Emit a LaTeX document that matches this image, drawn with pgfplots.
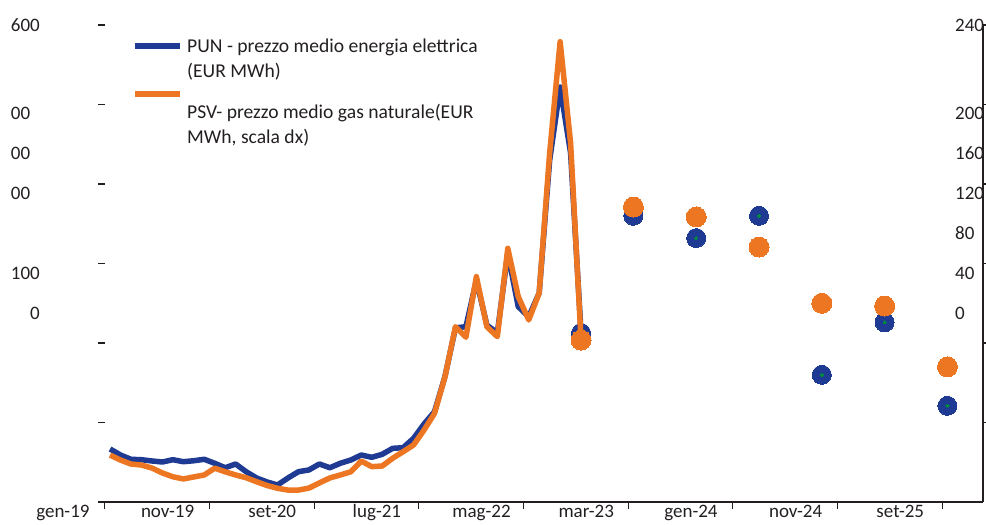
\documentclass[border=0pt]{standalone}
\usepackage{pgfplots}
\usepackage{pgfplotstable}
\pgfplotsset{compat=1.18}
\usepackage{fontspec}
\setmainfont{Carlito}
\definecolor{punblue}{RGB}{31,58,147}
\definecolor{psvorange}{RGB}{237,118,34}
\definecolor{dotgreen}{RGB}{0,140,60}
\definecolor{txt}{RGB}{35,31,32}

\pgfplotstableread{
m pun psv
0 66.7 23.6
1 59.1 21.1
2 53.7 19.1
3 53.2 18.6
4 51.6 17.1
5 50.3 14.6
6 53.2 12.7
7 50.7 11.6
8 51.9 12.6
9 53.7 13.6
10 48.7 17.0
11 43.1 15.2
12 47.8 13.6
13 38.1 12.2
14 30.2 10.2
15 25.2 8.3
16 21.4 6.9
17 30.2 6.0
18 38.1 6.0
19 40.3 7.0
20 47.8 9.6
21 43.1 12.1
22 48.7 13.6
23 52.8 15.2
24 59.1 20.6
25 56.2 17.8
26 60.0 18.1
27 67.5 22.0
28 68.3 25.3
29 80.1 28.7
30 98.1 36.2
31 113.6 44.6
32 158.0 63.0
33 219.0 88.2
34 220.5 82.9
35 279.0 113.4
36 222.6 88.2
37 212.6 83.2
38 313.0 127.6
39 245.7 103.3
40 233.0 91.6
41 263.0 105.2
42 430.0 175.6
43 522.0 231.6
44 439.0 180.6
45 212.6 81.5
}\histdata

\pgfplotstableread{
m pun psv
45 212.6 81.5
50 360.0 148.4
56 332.0 143.4
62 360.0 128.3
68 160.0 100.0
74 226.0 98.6
80 121.0 68.0
}\dotdata

\begin{document}
\begin{tikzpicture}[font=\fontsize{19bp}{23bp}\selectfont, every node/.style={text=txt}]
\path[use as bounding box] (0,0) rectangle (986bp,525bp);
\begin{axis}[
  at={(98bp,23bp)}, anchor=south west,
  scale only axis, width=885bp, height=477bp,
  xmin=-1.15, xmax=83.4, ymin=0, ymax=600,
  axis x line*=bottom, axis y line*=left,
  y axis line style={draw=none},
  x axis line style={line width=1.4bp, draw=txt, -},
  tick align=inside,
  major tick length=7bp,
  xtick={-0.5,9.5,...,79.5},
  xticklabels={gen-19,nov-19,set-20,lug-21,mag-22,mar-23,gen-24,nov-24,set-25},
  x tick style={line width=1.3bp, draw=txt, yshift=-7bp},
  xticklabel style={xshift=-41.9bp, anchor=north, inner sep=0pt, yshift=-2.5bp},
  ytick={100,200,300,400,500,600},
  yticklabels={},
  y tick style={line width=1.6bp, draw=txt},
  extra y ticks={237.7,288,388.7,439,489.3,600},
  extra y tick labels={0,100,00\phantom{0},00\phantom{0},00\phantom{0},600},
  extra y tick style={major tick length=0pt, yticklabel style={anchor=east, inner sep=0pt, xshift=-58bp}},
  clip=false,
]
\addplot[punblue, line width=5.5bp, line join=round] table[x=m, y=pun] {\histdata};
\addplot[punblue, only marks, mark=*, mark size=9.5bp, mark options={draw=punblue, fill=punblue, line width=0pt}] table[x=m, y=pun] {\dotdata};
\addplot[dotgreen, only marks, mark=*, mark size=1.6bp, mark options={draw=dotgreen, fill=dotgreen, line width=0pt}] table[x=m, y=pun] {\dotdata};
\end{axis}
\begin{axis}[
  at={(98bp,23bp)}, anchor=south west,
  scale only axis, width=885bp, height=477bp,
  xmin=-1.15, xmax=83.4, ymin=0, ymax=240,
  axis x line=none, axis y line*=right,
  y axis line style={line width=1.4bp, draw=txt, -},
  tick align=outside,
  major tick length=4bp,
  ytick={40,80,...,240},
  yticklabels={},
  y tick style={line width=1.3bp, draw=txt},
  extra y ticks={95.1,115.2,135.3,155.5,175.6,195.7,240},
  extra y tick labels={0,40,80,120,160,200,240},
  extra y tick style={major tick length=0pt, yticklabel style={anchor=west, inner sep=0pt, xshift=-28bp}},
  clip=false,
]
\addplot[psvorange, line width=5.5bp, line join=round] table[x=m, y=psv] {\histdata};
\addplot[psvorange, only marks, mark=*, mark size=10bp, mark options={draw=psvorange, fill=psvorange, line width=0pt}] table[x=m, y=psv] {\dotdata};
\end{axis}
\begin{scope}[font=\fontsize{19.6bp}{24bp}\selectfont]
\draw[punblue, line width=6bp] (135bp,479bp) -- (180bp,479bp);
\node[anchor=base west, inner sep=0pt] at (187bp,472bp) {PUN - prezzo medio energia elettrica};
\node[anchor=base west, inner sep=0pt] at (187bp,447bp) {(EUR MWh)};
\draw[psvorange, line width=6bp] (135bp,431bp) -- (180bp,431bp);
\node[anchor=base west, inner sep=0pt] at (187bp,406bp) {PSV- prezzo medio gas naturale(EUR};
\node[anchor=base west, inner sep=0pt] at (187bp,381bp) {MWh, scala dx)};
\end{scope}
\end{tikzpicture}
\end{document}
